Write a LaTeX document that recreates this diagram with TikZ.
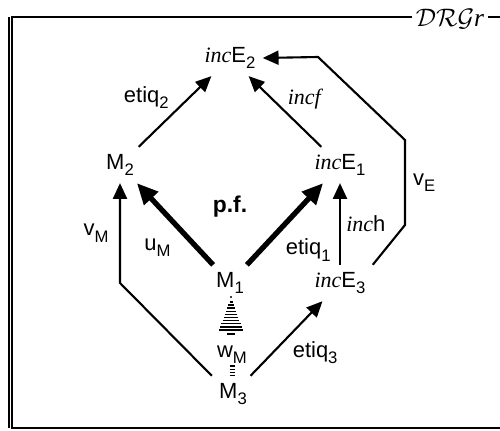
\documentclass[tikz,border=0pt]{standalone}
\usepackage{fontspec}
\setmainfont{Liberation Sans}
\newfontfamily\incfont{Liberation Serif}
\usetikzlibrary{arrows.meta, positioning, calc}
\newcommand{\incop}{{\incfont\itshape inc}}
\newcommand{\lowsub}[1]{\raisebox{-0.55ex}{\fontsize{9.5}{10}\selectfont #1}}

\begin{document}
\begin{tikzpicture}[
  x=0.02cm, y=-0.02cm,
  font=\fontsize{12.5}{14}\selectfont,
  obj/.style={inner sep=4pt},
  lbl/.style={inner sep=1pt},
  arrow/.style={-{Triangle[length=9pt, width=8pt]}, line width=1.2pt},
  bigarrow/.style={-{Triangle[length=12pt, width=10.5pt]}, line width=3pt},
  hatch/.style={line width=0.9pt},
  frame/.style={line width=1.1pt}
]
\useasboundingbox (0,0) rectangle (500,431);

% frame with its title
\draw[frame] (500,17) -- (12,17) -- (12,428) -- (500,428);
\draw[line width=0.6pt] (9,17) -- (9,428);
\node[fill=white, inner sep=2pt, font=\fontsize{14.5}{16}\selectfont] (title) at (450,19) {$\mathcal{DRG}${\incfont\itshape r}};

% objects
\node[obj] (E2) at (230,58) {\incop E\lowsub{2}};
\node[obj] (M2) at (120,165) {M\lowsub{2}};
\node[obj] (E1) at (340,165) {\incop E\lowsub{1}};
\node[obj, font=\fontsize{13}{15}\bfseries] (pf) at (230,207) {p.f.};
\node[obj] (M1) at (230,283) {M\lowsub{1}};
\node[obj] (E3) at (340,283) {\incop E\lowsub{3}};
\node[obj] (M3) at (233,394) {M\lowsub{3}};

% arrows
\draw[arrow] (M2) -- node[lbl, above left=0pt and 2pt] {etiq\lowsub{2}} (E2);
\draw[arrow] (E1) -- node[lbl, above right=0pt and 0pt] {\incfont\itshape incf} (E2);
\draw[arrow] (E3) -- node[lbl, right=2pt] {\incop h} (E1);
\draw[bigarrow] (M1) -- node[lbl, below left=6pt and 0pt] {u\lowsub{M}} (M2);
\draw[bigarrow] (M1) -- node[lbl, below right=6pt and -2pt] {etiq\lowsub{1}} (E1);
\draw[arrow] (E3.north east) -- (405,225) -- node[lbl, right=3pt] {v\lowsub{E}} (405,140) -- (318,57) -- (E2.east);
\draw[arrow] (M3.north west) -- (120,283) -- node[lbl, left=5pt] {v\lowsub{M}} (M2.south);
\draw[arrow] (M3) -- node[lbl, below right=0pt and 2pt] {etiq\lowsub{3}} (E3);

% hatched arrow w_M
\node[lbl] (wM) at (232,355) {w\lowsub{M}};
\fill ($(M1)+(1,14)$) circle (1.1);
\foreach \i in {0,...,9} {
  \pgfmathsetmacro{\hw}{1.5+\i*1.15}
  \draw[hatch] ($(M1)+(1-\hw,19+\i*3.1)$) -- ($(M1)+(1+\hw,19+\i*3.1)$);
}
\draw[hatch] ($(M1)+(-3,51)$) -- ($(M1)+(5,51)$);
\foreach \i in {0,...,3} {
  \draw[line width=0.7pt] ($(M3)+(-3.5,-28+\i*3.2)$) -- ($(M3)+(1.5,-28+\i*3.2)$);
}
\end{tikzpicture}
\end{document}
